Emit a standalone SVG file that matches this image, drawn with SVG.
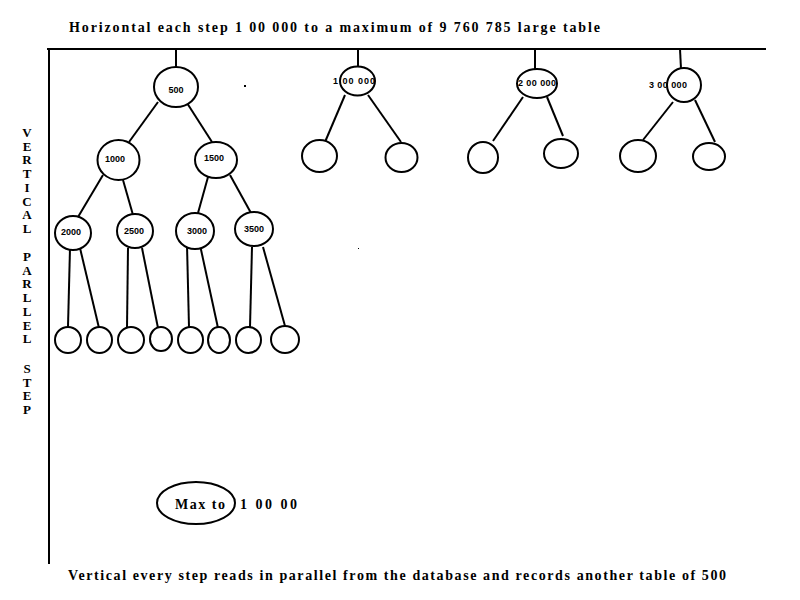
<svg xmlns="http://www.w3.org/2000/svg" width="800" height="600" viewBox="0 0 800 600">
<style>
.n{fill:#fff;stroke:#000;stroke-width:2}
.c{stroke:#000;stroke-width:2;fill:none}
.lbl{font-family:"Liberation Sans",Arial,sans-serif;font-weight:bold;font-size:9px;fill:#000}
.ser{font-family:"Liberation Serif","Times New Roman",serif;font-weight:bold;fill:#000}
</style>
<rect width="800" height="600" fill="#fff"/>
<text class="ser" x="69" y="32" font-size="14" textLength="531" lengthAdjust="spacing">Horizontal each step 1 00 000 to a maximum of 9 760 785 large table</text>
<text class="ser" x="68" y="580" font-size="14" textLength="658" lengthAdjust="spacing">Vertical every step reads in parallel from the database and records another table of 500</text>
<g class="ser" font-size="13" text-anchor="middle">
<text x="27" y="137">V</text><text x="27" y="150.7">E</text><text x="27" y="164.4">R</text><text x="27" y="178.1">T</text><text x="27" y="191.8">I</text><text x="27" y="205.5">C</text><text x="27" y="219.2">A</text><text x="27" y="233">L</text>
<text x="27" y="261">P</text><text x="27" y="274.7">A</text><text x="27" y="288.4">R</text><text x="27" y="302.1">L</text><text x="27" y="315.8">L</text><text x="27" y="329.5">E</text><text x="27" y="343.2">L</text>
<text x="27" y="373">S</text><text x="27" y="386.7">T</text><text x="27" y="400.4">E</text><text x="27" y="414.1">P</text>
</g>
<g id="connectors">
<line class="c" x1="47" y1="49" x2="766" y2="49"/>
<line class="c" x1="49" y1="48" x2="49" y2="564"/>
<line class="c" x1="176" y1="49" x2="176" y2="67"/>
<line class="c" x1="358" y1="49" x2="358" y2="67"/>
<line class="c" x1="535" y1="49" x2="535" y2="69"/>
<line class="c" x1="680" y1="49" x2="681" y2="69"/>
<line class="c" x1="158" y1="102" x2="129" y2="142"/>
<line class="c" x1="187" y1="103" x2="212" y2="142"/>
<line class="c" x1="103" y1="175" x2="78" y2="217"/>
<line class="c" x1="123" y1="180" x2="133" y2="215"/>
<line class="c" x1="208" y1="177" x2="198" y2="213"/>
<line class="c" x1="230" y1="175" x2="251" y2="213"/>
<line class="c" x1="70" y1="248" x2="68" y2="327"/>
<line class="c" x1="80" y1="248" x2="99" y2="328"/>
<line class="c" x1="128" y1="248" x2="127" y2="328"/>
<line class="c" x1="142" y1="248" x2="158" y2="328"/>
<line class="c" x1="187" y1="245" x2="189" y2="327"/>
<line class="c" x1="200" y1="245" x2="218" y2="328"/>
<line class="c" x1="252" y1="247" x2="250" y2="327"/>
<line class="c" x1="263" y1="247" x2="285" y2="326"/>
<line class="c" x1="345" y1="95" x2="325" y2="142"/>
<line class="c" x1="368" y1="95" x2="401" y2="142"/>
<line class="c" x1="523" y1="97" x2="493" y2="141"/>
<line class="c" x1="547" y1="97" x2="563" y2="136"/>
<line class="c" x1="673" y1="102" x2="643" y2="140"/>
<line class="c" x1="695" y1="100" x2="715" y2="142"/>
</g>
<g id="n500"><ellipse class="n" cx="176" cy="87" rx="22" ry="20"/><text class="lbl" x="176" y="93" text-anchor="middle">500</text></g>
<g id="n1000"><ellipse class="n" cx="118.5" cy="160" rx="21" ry="20"/><text class="lbl" x="115" y="162" text-anchor="middle">1000</text></g>
<g id="n1500"><ellipse class="n" cx="216" cy="160" rx="21" ry="18"/><text class="lbl" x="214" y="161" text-anchor="middle">1500</text></g>
<g id="n2000"><ellipse class="n" cx="73" cy="233" rx="18" ry="17"/><text class="lbl" x="71" y="235" text-anchor="middle">2000</text></g>
<g id="n2500"><ellipse class="n" cx="135" cy="231" rx="18" ry="17"/><text class="lbl" x="134" y="234" text-anchor="middle">2500</text></g>
<g id="n3000"><ellipse class="n" cx="195" cy="231" rx="19" ry="18"/><text class="lbl" x="197" y="234" text-anchor="middle">3000</text></g>
<g id="n3500"><ellipse class="n" cx="254" cy="229" rx="19" ry="17"/><text class="lbl" x="254" y="232" text-anchor="middle">3500</text></g>
<g id="leaf1"><ellipse class="n" cx="68" cy="340" rx="13" ry="13"/></g>
<g id="leaf2"><ellipse class="n" cx="99.5" cy="340" rx="12.5" ry="13"/></g>
<g id="leaf3"><ellipse class="n" cx="131" cy="340" rx="13" ry="13"/></g>
<g id="leaf4"><ellipse class="n" cx="161" cy="339" rx="11" ry="12"/></g>
<g id="leaf5"><ellipse class="n" cx="190.5" cy="340" rx="12.5" ry="13"/></g>
<g id="leaf6"><ellipse class="n" cx="219" cy="340" rx="11" ry="13"/></g>
<g id="leaf7"><ellipse class="n" cx="248.5" cy="340" rx="12.5" ry="13"/></g>
<g id="leaf8"><ellipse class="n" cx="285" cy="339.5" rx="14" ry="13.5"/></g>
<g id="n100000"><ellipse class="n" cx="357.5" cy="81" rx="17.5" ry="14.5"/><text class="lbl" x="333" y="83.5" font-size="8.5" textLength="42" lengthAdjust="spacing">1 00 000</text></g>
<g id="n100000a"><ellipse class="n" cx="319.5" cy="156" rx="17.5" ry="16"/></g>
<g id="n100000b"><ellipse class="n" cx="401.5" cy="157.5" rx="16" ry="14.5"/></g>
<g id="n200000"><ellipse class="n" cx="537" cy="83.5" rx="20" ry="14.5"/><text class="lbl" x="518" y="86" font-size="8.5" textLength="38" lengthAdjust="spacing">2 00 000</text></g>
<g id="n200000a"><ellipse class="n" cx="483" cy="157.5" rx="15" ry="15.5"/></g>
<g id="n200000b"><ellipse class="n" cx="561" cy="153.5" rx="17" ry="14.5"/></g>
<g id="n300000"><ellipse class="n" cx="684" cy="85" rx="17" ry="17"/><text class="lbl" x="649" y="88" font-size="8.5" textLength="38" lengthAdjust="spacing">3 00 000</text></g>
<g id="n300000a"><ellipse class="n" cx="638" cy="156" rx="18" ry="16"/></g>
<g id="n300000b"><ellipse class="n" cx="709" cy="156.5" rx="16" ry="13.5"/></g>
<g id="max"><ellipse class="n" cx="196" cy="503" rx="39" ry="21"/><text class="ser" x="175" y="509" font-size="14" textLength="50" lengthAdjust="spacing">Max to</text></g>
<text class="ser" x="240" y="509" font-size="14" textLength="57" lengthAdjust="spacing">1 00 00</text>
<rect x="244" y="85" width="2" height="2" fill="#000"/>
<rect x="358" y="248" width="1" height="1" fill="#000"/>
</svg>
